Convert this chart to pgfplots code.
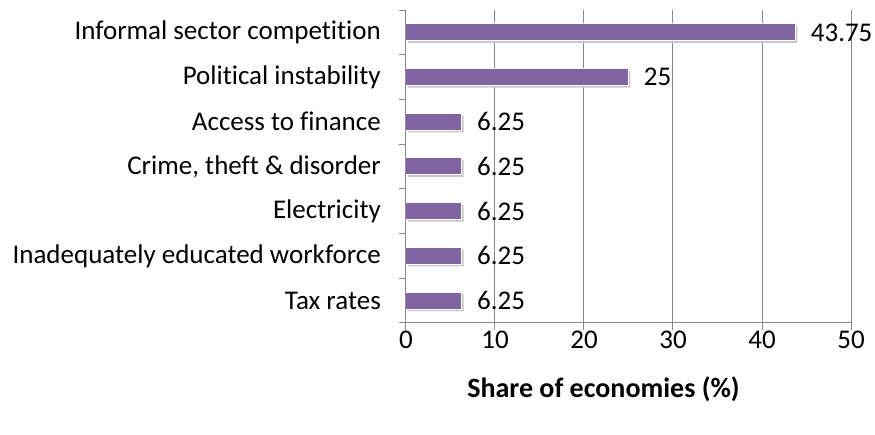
\documentclass[border=0pt]{standalone}
\usepackage{pgfplots}
\pgfplotsset{compat=1.18}
\usepackage{fontspec}
\setmainfont[Ligatures=NoCommon]{Carlito}
\definecolor{barpurple}{HTML}{8064A2}
\definecolor{gridgray}{HTML}{868686}
\begin{document}
\begin{tikzpicture}
\begin{axis}[
  name=ax,
  scale only axis, width=445pt, height=313pt,
  xbar, bar width=17pt,
  xmin=0, xmax=50, ymin=-0.5, ymax=6.5,
  axis lines*=left,
  axis line style={gridgray, line width=1pt},
  xtick={0,10,...,50},
  xmajorgrids,
  grid style={gridgray, line width=1pt},
  ytick={0,...,6},
  yticklabels={Tax rates, Inadequately educated workforce, Electricity, {Crime, theft \& disorder}, Access to finance, Political instability, Informal sector competition},
  minor ytick={-0.5,0.5,...,6.5},
  tick align=outside,
  major tick length=7pt, minor tick length=7pt,
  tick style={gridgray, line width=1pt},
  major y tick style={draw=none},
  /pgf/number format/assume math mode=true,
  tick label style={font=\fontsize{27}{31}\selectfont, text=black},
  yticklabel style={anchor=east, inner sep=0pt, xshift=-18pt},
  xticklabel style={anchor=north, inner sep=0pt, yshift=-1pt},
  xlabel={\bfseries Share of economies (\%)},
  every axis x label/.style={at={(axis description cs:0.5,0)}, anchor=center, yshift=-66pt, xshift=-25pt, font=\fontsize{28}{32}\selectfont},
  nodes near coords,
  nodes near coords align={horizontal},
  every node near coord/.append style={anchor=west, inner sep=0pt, xshift=15pt, font=\fontsize{27}{31}\selectfont, text=black},
]
\addplot[fill=barpurple, draw=white, line width=1pt,
  preaction={fill=black!22, draw=none, transform canvas={xshift=2pt, yshift=-2pt}}]
  coordinates {(6.25,0) (6.25,1) (6.25,2) (6.25,3) (6.25,4) (25,5) (43.75,6)};
\end{axis}
\path (ax.south west) ++(-406pt,-112pt) rectangle ++(875pt,435pt);
\end{tikzpicture}
\end{document}
